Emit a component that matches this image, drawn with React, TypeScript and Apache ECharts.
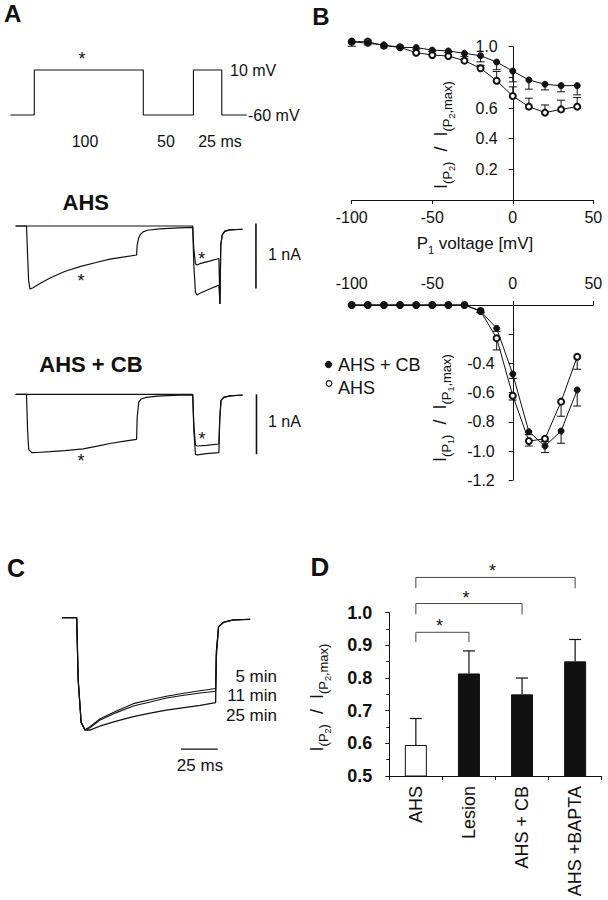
import React, { useEffect, useRef } from "react";
import * as echarts from "echarts";

const FONT = '"Liberation Sans", Arial, Helvetica, sans-serif';
const INK = "#111";

// ---------- Panel A: voltage protocol (ms, mV) ----------
const protocolTimeMs = [-22, 0, 0, 100, 100, 146, 146, 172, 172, 195];
const protocolVoltMv = [-60, -60, 10, 10, -60, -60, 10, 10, -60, -60];

// ---------- Panel A: AHS current traces (ms, nA) ----------
const ahsWithP1Time = [-10, 0, 1, 2, 3.2, 6, 12, 21.6, 35, 49, 63, 76.6, 90, 101, 101.5, 103, 104.5, 107, 111, 122, 140, 152.5, 153.5, 155, 156.5, 159, 168, 176.5, 177.5, 178.2, 179.5, 182, 186.7, 198.3];
const ahsWithP1Curr = [0, 0, -0.45, -0.85, -0.97, -0.95, -0.89, -0.8, -0.7, -0.626, -0.565, -0.51, -0.475, -0.446, -0.3, -0.18, -0.13, -0.09, -0.065, -0.045, -0.03, -0.02, -0.35, -0.58, -0.6, -0.58, -0.54, -0.5, -1.2, -0.3, -0.14, -0.08, -0.06, -0.05];
const ahsNoP1Time = [-10, 152.5, 153.5, 155, 156.5, 159, 168, 176.5, 177.5, 178.2, 179.5, 182, 186.7, 198.3];
const ahsNoP1Curr = [0, 0, -0.6, -1.02, -1.06, -1.035, -0.97, -0.91, -1.2, -0.3, -0.14, -0.08, -0.06, -0.05];
const ahsScaleBarTime = [210.5, 210.5];
const ahsScaleBarCurr = [0.04, -0.96];

// ---------- Panel A: AHS + CB current traces (ms, nA) ----------
const cbWithP1Time = [-10, 0, 1, 2, 4.8, 10, 21.6, 35, 52, 65, 76.6, 90, 101, 101.5, 103, 105, 110, 120, 140, 152.5, 153.5, 155, 157, 165, 176.5, 177.3, 178.5, 181, 186.7, 198.3];
const cbWithP1Curr = [0, 0, -0.6, -0.92, -0.973, -0.97, -0.957, -0.94, -0.91, -0.865, -0.82, -0.78, -0.75, -0.4, -0.13, -0.08, -0.05, -0.03, -0.015, -0.012, -0.5, -0.85, -0.862, -0.85, -0.828, -0.4, -0.1, -0.05, -0.025, -0.012];
const cbNoP1Time = [-10, 152.5, 153.5, 155, 157, 165, 176.5, 177.3, 178.5, 181, 186.7, 198.3];
const cbNoP1Curr = [0, 0, -0.6, -1.0, -1.01, -0.99, -0.973, -0.4, -0.1, -0.05, -0.025, -0.012];
const cbScaleBarTime = [211, 211];
const cbScaleBarCurr = [0, -1.0];

// ---------- Panel B ----------
const p1Voltage = [-100, -90, -80, -70, -60, -50, -40, -30, -20, -10, 0, 10, 20, 30, 40];
const p2RatioCB = [1.033, 1.022, 1.011, 0.996, 0.994, 0.978, 0.972, 0.957, 0.941, 0.9, 0.841, 0.783, 0.755, 0.746, 0.746];
const p2RatioCBErr = [0.03, 0.01, 0, 0, 0.01, 0.01, 0.01, 0.02, 0.04, 0.05, 0.07, 0.06, 0.037, 0.04, 0.06];
const p2RatioAHS = [1.033, 1.033, 1.007, 0.996, 0.961, 0.946, 0.939, 0.909, 0.859, 0.778, 0.678, 0.609, 0.57, 0.591, 0.609];
const p2RatioAHSErr = [0, 0.01, 0, 0, 0, 0, 0, 0.01, 0.02, 0.06, 0.06, 0.055, 0.05, 0.06, 0.06];
const p1CurrCB = [0, 0, 0, 0, 0, 0, 0, 0, -0.041, -0.16, -0.473, -0.868, -0.966, -0.863, -0.582];
const p1CurrCBErr = [0, 0, 0, 0, 0, 0, 0, 0, 0.01, 0.02, 0.03, 0.02, 0.045, 0.084, 0.11];
const p1CurrAHS = [0, 0, 0, 0, 0, 0, 0, 0, -0.041, -0.228, -0.621, -0.932, -0.916, -0.662, -0.354];
const p1CurrAHSErr = [0, 0, 0, 0, 0, 0, 0, 0, 0.01, 0.08, 0.03, 0.034, 0.02, 0.1, 0.086];
const p2RatioTickLabels = [0.2, 0.4, 0.6, 1.0];
const p1CurrTickLabels = [-0.4, -0.6, -0.8, -1.0, -1.2];
const legendNames = ["AHS + CB", "AHS"];

// ---------- Panel C (ms, normalised current) ----------
const cTime = [-10, 0, 1, 3, 5.6, 9, 16, 27, 38.5, 50, 61, 73, 84, 94.5, 95, 96.5, 100, 106.5, 118];
const c5min = [0, 0, -0.55, -0.93, -1.0, -0.97, -0.9, -0.83, -0.765, -0.73, -0.7, -0.672, -0.65, -0.63, -0.3, -0.08, -0.04, -0.02, -0.014];
const c11min = [0, 0, -0.55, -0.93, -1.0, -0.98, -0.91, -0.845, -0.786, -0.75, -0.715, -0.69, -0.67, -0.655, -0.3, -0.08, -0.04, -0.02, -0.014];
const c25min = [0, 0, -0.55, -0.93, -1.0, -1.0, -0.964, -0.92, -0.881, -0.85, -0.822, -0.8, -0.78, -0.757, -0.35, -0.08, -0.04, -0.02, -0.014];
const cScaleBarTime = [71, 96];
const cScaleBarLevel = [-1.17, -1.17];

// ---------- Panel D ----------
const dCategories = ["AHS", "Lesion", "AHS + CB", "AHS +BAPTA"];
const dValues = [0.595, 0.814, 0.75, 0.851];
const dErrors = [0.081, 0.069, 0.05, 0.067];
const bracketFrom = [0, 0, 0];
const bracketTo = [1, 2, 3];
const bracketTop = [0.94, 1.028, 1.108];
const bracketFoot = [0.91, 0.995, 1.075];

const zip = (xs: number[], ys: number[]) => xs.map((x, i) => [x, ys[i]]);

const hiddenAxis = (gridIndex: number, min: number, max: number) => ({
  type: "value",
  gridIndex,
  min,
  max,
  show: false,
  splitLine: { show: false },
});

const axisLine = { show: true, onZero: true, lineStyle: { color: INK, width: 1 } };
const axisTick = { show: true, length: 4, lineStyle: { color: INK, width: 1 } };

const traceSeries = (idx: number, data: number[][], width = 1.2) => ({
  type: "line",
  xAxisIndex: idx,
  yAxisIndex: idx,
  data,
  showSymbol: false,
  symbol: "none",
  clip: false,
  silent: true,
  lineStyle: { color: INK, width },
  z: 3,
});

const errorSeries = (idx: number, xs: number[], ys: number[], errs: number[], dir: number, capW: number) => ({
  type: "custom",
  xAxisIndex: idx,
  yAxisIndex: idx,
  clip: false,
  silent: true,
  z: 1,
  data: xs.map((x, i) => [x, ys[i], errs[i]]).filter((d) => d[2] > 0),
  encode: { x: 0, y: 1 },
  renderItem: (params: any, api: any) => {
    const x = api.value(0);
    const y = api.value(1);
    const e = api.value(2);
    const p0 = api.coord([x, y]);
    const p1 = api.coord([x, y + dir * e]);
    return {
      type: "group",
      children: [
        { type: "line", shape: { x1: p0[0], y1: p0[1], x2: p1[0], y2: p1[1] }, style: { stroke: INK, lineWidth: 1 } },
        { type: "line", shape: { x1: p1[0] - capW / 2, y1: p1[1], x2: p1[0] + capW / 2, y2: p1[1] }, style: { stroke: INK, lineWidth: 1 } },
      ],
    };
  },
});

// tick labels placed next to the y axis that sits at x = 0
const tickLabelSeries = (idx: number, values: number[], gap: number) => ({
  type: "custom",
  xAxisIndex: idx,
  yAxisIndex: idx,
  clip: false,
  silent: true,
  z: 6,
  data: values.map((v) => [0, v]),
  encode: { x: 0, y: 1 },
  renderItem: (params: any, api: any) => {
    const v = api.value(1);
    const p = api.coord([api.value(0), v]);
    return {
      type: "text",
      x: p[0] - gap,
      y: p[1],
      style: {
        text: v.toFixed(1),
        fill: INK,
        font: `16px ${FONT}`,
        align: "right",
        verticalAlign: "middle",
        textAlign: "right",
        textVerticalAlign: "middle",
      },
    };
  },
});

const pointSeries = (idx: number, name: string, ys: number[], hollow: boolean) => ({
  type: "line",
  name,
  xAxisIndex: idx,
  yAxisIndex: idx,
  data: zip(p1Voltage, ys),
  symbol: hollow ? "emptyCircle" : "circle",
  symbolSize: 6,
  showSymbol: true,
  clip: false,
  silent: true,
  lineStyle: { color: INK, width: 1 },
  itemStyle: { color: INK, borderColor: INK, borderWidth: 1 },
  z: hollow ? 4 : 5,
});

const txt = (text: string, x: number, y: number, size: number, opts: any = {}) => {
  const align = opts.align || "left";
  return {
    type: "text",
    x,
    y,
    silent: true,
    rotation: opts.rotation || 0,
    style: {
      text,
      fill: INK,
      font: `${opts.bold ? "bold " : ""}${size}px ${FONT}`,
      textAlign: align,
      textVerticalAlign: "middle",
      align,
      verticalAlign: "middle",
      rich: opts.rich,
    },
  };
};

const star = (x: number, y: number) => txt("*", x, y + 4, 18, { align: "center" });

const ratioRich = (main: number) => ({
  m: { fontSize: main, fontFamily: FONT, verticalAlign: "top", fill: INK },
  s: { fontSize: Math.round(main * 0.72), fontFamily: FONT, verticalAlign: "top", padding: [Math.round(main * 0.5), 0, 0, 0], fill: INK },
  ss: { fontSize: Math.round(main * 0.5), fontFamily: FONT, verticalAlign: "top", padding: [Math.round(main * 0.88), 0, 0, 0], fill: INK },
});
const ratioText = (n: number) => `{m|I}{s|(P}{ss|${n}}{s|)}{m|  /  I}{s|(P}{ss|${n}}{s|,max)}`;

export default function App() {
  const ref = useRef<HTMLDivElement>(null);

  useEffect(() => {
    if (!ref.current) return;
    const chart = echarts.init(ref.current, undefined, { renderer: "svg" });

    const grids = [
      { left: 7.05, top: 63.57, width: 245.25, height: 57.86 }, // 0 protocol
      { left: 15.6, top: 219.5, width: 241.98, height: 91 }, // 1 AHS
      { left: 15.6, top: 388.3, width: 241.98, height: 78 }, // 2 AHS + CB
      { left: 351.7, top: 46.7, width: 241.6, height: 153.3 }, // 3 B top
      { left: 351.7, top: 305, width: 241.6, height: 175.2 }, // 4 B bottom
      { left: 59.06, top: 612.1, width: 194.04, height: 146 }, // 5 C
      { left: 389.3, top: 612.7, width: 212.4, height: 163.3 }, // 6 D
    ].map((g) => ({ ...g, show: false, containLabel: false, outerBoundsMode: "none" }));

    const bLabel = { show: true, color: INK, fontSize: 16, fontFamily: FONT };

    const xAxis: any[] = [
      hiddenAxis(0, -25, 200),
      hiddenAxis(1, -10, 212),
      hiddenAxis(2, -10, 212),
      {
        type: "value", gridIndex: 3, min: -100, max: 50, interval: 50,
        axisLine, axisTick, splitLine: { show: false },
        axisLabel: { ...bLabel, margin: 9 },
      },
      {
        type: "value", gridIndex: 4, min: -100, max: 50, interval: 50, position: "top",
        axisLine, axisTick, splitLine: { show: false },
        axisLabel: { ...bLabel, margin: 14 },
      },
      hiddenAxis(5, -12, 120),
      {
        type: "category", gridIndex: 6, data: dCategories, boundaryGap: true,
        axisLine: { show: true, lineStyle: { color: INK, width: 1 } },
        axisTick: { show: true, length: 4, alignWithLabel: false, lineStyle: { color: INK } },
        axisLabel: { show: true, rotate: 90, color: INK, fontSize: 18, fontFamily: FONT, margin: 10, interval: 0 },
        splitLine: { show: false },
      },
    ];

    const yAxis: any[] = [
      hiddenAxis(0, -70, 20),
      hiddenAxis(1, -1.3, 0.1),
      hiddenAxis(2, -1.2, 0.1),
      {
        type: "value", gridIndex: 3, min: 0, max: 1.0, interval: 0.2,
        axisLine, axisTick, splitLine: { show: false },
        axisLabel: { show: false },
      },
      {
        type: "value", gridIndex: 4, min: -1.2, max: 0, interval: 0.2,
        axisLine, axisTick, splitLine: { show: false },
        axisLabel: { show: false },
      },
      hiddenAxis(5, -1.25, 0.05),
      {
        type: "value", gridIndex: 6, min: 0.5, max: 1.0, interval: 0.1,
        axisLine: { show: true, lineStyle: { color: INK, width: 1 } },
        axisTick: { show: true, length: 4, lineStyle: { color: INK } },
        minorTick: { show: true, splitNumber: 2, length: 3, lineStyle: { color: INK } },
        splitLine: { show: false },
        minorSplitLine: { show: false },
        axisLabel: {
          show: true, color: INK, fontSize: 18, fontWeight: "bold", fontFamily: FONT, margin: 17,
          formatter: (v: number) => (Math.round(v * 10) / 10).toFixed(1),
        },
      },
    ];

    const series: any[] = [
      traceSeries(0, zip(protocolTimeMs, protocolVoltMv), 1.1),
      traceSeries(1, zip(ahsWithP1Time, ahsWithP1Curr)),
      traceSeries(1, zip(ahsNoP1Time, ahsNoP1Curr)),
      traceSeries(1, zip(ahsScaleBarTime, ahsScaleBarCurr), 1.6),
      traceSeries(2, zip(cbWithP1Time, cbWithP1Curr)),
      traceSeries(2, zip(cbNoP1Time, cbNoP1Curr)),
      traceSeries(2, zip(cbScaleBarTime, cbScaleBarCurr), 1.6),
      errorSeries(3, p1Voltage, p2RatioCB, p2RatioCBErr, -1, 8),
      errorSeries(3, p1Voltage, p2RatioAHS, p2RatioAHSErr, 1, 8),
      pointSeries(3, "AHS", p2RatioAHS, true),
      pointSeries(3, "AHS + CB", p2RatioCB, false),
      tickLabelSeries(3, p2RatioTickLabels, 15),
      errorSeries(4, p1Voltage, p1CurrCB, p1CurrCBErr, -1, 8),
      errorSeries(4, p1Voltage, p1CurrAHS, p1CurrAHSErr, -1, 8),
      pointSeries(4, "AHS", p1CurrAHS, true),
      pointSeries(4, "AHS + CB", p1CurrCB, false),
      tickLabelSeries(4, p1CurrTickLabels, 18),
      traceSeries(5, zip(cTime, c5min), 1.1),
      traceSeries(5, zip(cTime, c11min), 1.1),
      traceSeries(5, zip(cTime, c25min), 1.3),
      traceSeries(5, zip(cScaleBarTime, cScaleBarLevel), 1.3),
      {
        type: "bar",
        name: "ratio",
        xAxisIndex: 6,
        yAxisIndex: 6,
        barWidth: 22,
        silent: true,
        z: 3,
        data: dValues.map((v, i) => ({
          value: v,
          itemStyle: i === 0 ? { color: "#fff", borderColor: INK, borderWidth: 1 } : { color: INK, borderColor: INK, borderWidth: 1 },
        })),
      },
      {
        type: "custom",
        xAxisIndex: 6,
        yAxisIndex: 6,
        clip: false,
        silent: true,
        z: 2,
        data: dValues.map((v, i) => [i, v, dErrors[i]]),
        encode: { x: 0, y: 1 },
        renderItem: (params: any, api: any) => {
          const i = api.value(0);
          const v = api.value(1);
          const e = api.value(2);
          const p0 = api.coord([i, v]);
          const p1 = api.coord([i, v + e]);
          return {
            type: "group",
            children: [
              { type: "line", shape: { x1: p0[0], y1: p0[1], x2: p1[0], y2: p1[1] }, style: { stroke: INK, lineWidth: 1.2 } },
              { type: "line", shape: { x1: p1[0] - 6, y1: p1[1], x2: p1[0] + 6, y2: p1[1] }, style: { stroke: INK, lineWidth: 1.2 } },
            ],
          };
        },
      },
      {
        type: "custom",
        xAxisIndex: 6,
        yAxisIndex: 6,
        clip: false,
        silent: true,
        z: 2,
        data: bracketFrom.map((f, i) => [f, bracketTo[i], bracketTop[i], bracketFoot[i]]),
        encode: { x: [0, 1], y: [2, 3] },
        renderItem: (params: any, api: any) => {
          const a = api.coord([api.value(0), api.value(2)]);
          const b = api.coord([api.value(1), api.value(2)]);
          const foot = api.coord([api.value(0), api.value(3)])[1];
          const mid = (a[0] + b[0]) / 2 - 3;
          return {
            type: "group",
            children: [
              {
                type: "polyline",
                shape: { points: [[a[0], foot], [a[0], a[1]], [b[0], b[1]], [b[0], foot]] },
                style: { stroke: "#444", lineWidth: 1, fill: "none" },
              },
              {
                type: "text",
                x: mid,
                y: a[1] - 6,
                style: { text: "*", fill: INK, font: `18px ${FONT}`, align: "center", verticalAlign: "middle", textAlign: "center", textVerticalAlign: "middle" },
              },
            ],
          };
        },
      },
    ];

    const graphic: any[] = [
      txt("A", 12.7, 13, 24, { bold: true, align: "center" }),
      txt("B", 321, 16, 24, { bold: true, align: "center" }),
      txt("C", 16, 567.5, 25, { bold: true, align: "center" }),
      txt("D", 320, 566.7, 26, { bold: true, align: "center" }),
      // Panel A protocol annotations
      star(82, 55),
      txt("10 mV", 230, 70, 16),
      txt("-60 mV", 248, 115, 16),
      txt("100", 85, 141, 16, { align: "center" }),
      txt("50", 166, 141, 16, { align: "center" }),
      txt("25 ms", 220, 141, 16, { align: "center" }),
      // AHS traces
      txt("AHS", 62.5, 202, 22, { bold: true }),
      txt("1 nA", 268, 254.5, 16),
      star(81, 276.7),
      star(201.7, 255),
      // AHS + CB traces
      txt("AHS + CB", 39.3, 364.5, 22, { bold: true }),
      txt("1 nA", 268, 421.7, 16),
      star(81, 456.7),
      star(202, 435),
      // Panel B axis titles
      txt(ratioText(2), 444, 135, 18, { align: "center", rotation: Math.PI / 2, rich: ratioRich(18) }),
      txt("{m|P}{s|1}{m| voltage [mV]}", 475, 245, 17, {
        align: "center",
        rich: {
          m: { fontSize: 17, fontFamily: FONT, verticalAlign: "top", fill: INK },
          s: { fontSize: 11, fontFamily: FONT, verticalAlign: "top", padding: [9, 0, 0, 0], fill: INK },
        },
      }),
      txt(ratioText(1), 443, 408, 18, { align: "center", rotation: Math.PI / 2, rich: ratioRich(18) }),
      // Panel B legend
      { type: "circle", silent: true, shape: { cx: 328.5, cy: 364.5, r: 3.2 }, style: { fill: INK, stroke: INK, lineWidth: 1 } },
      txt(legendNames[0], 338, 364.5, 18),
      { type: "circle", silent: true, shape: { cx: 329, cy: 383.5, r: 2.8 }, style: { fill: "#fff", stroke: INK, lineWidth: 1.1 } },
      txt(legendNames[1], 338, 387.5, 18),
      // Panel C annotations
      txt("5 min", 277, 676, 17, { align: "right" }),
      txt("11 min", 277, 695.7, 17, { align: "right" }),
      txt("25 min", 277, 715, 17, { align: "right" }),
      txt("25 ms", 200, 765, 17, { align: "center" }),
      // Panel D axis title
      txt(ratioText(2), 320, 697.5, 18, { align: "center", rotation: Math.PI / 2, rich: ratioRich(18) }),
    ];

    chart.setOption({
      animation: false,
      backgroundColor: "#fff",
      textStyle: { fontFamily: FONT, color: INK },
      grid: grids,
      xAxis,
      yAxis,
      series,
      graphic,
    });

    return () => chart.dispose();
  }, []);

  return (
    <div
      ref={ref}
      style={{ position: "absolute", left: 0, top: 0, width: 608, height: 900, background: "#fff" }}
    />
  );
}
